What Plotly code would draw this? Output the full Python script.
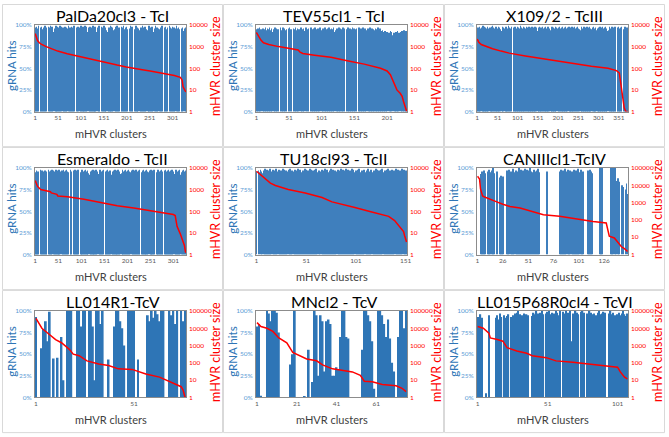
"""
Grid of gRNA hits (bars) vs mHVR cluster size (red line, log) per strain.
"""

import plotly.graph_objects as go

# ---------------- data ----------------
titles = [
    "PalDa20cl3 - TcI", "TEV55cl1 - TcI", "X109/2 - TcIII",
    "Esmeraldo - TcII", "TU18cl93 - TcII", "CANIIIcl1-TcIV",
    "LL014R1-TcV", "MNcl2 - TcV", "LL015P68R0cl4 - TcVI",
]

x_ticks = [
    [1, 51, 101, 151, 201, 251, 301],
    [1, 51, 101, 151, 201],
    [1, 51, 101, 151, 201, 251, 301, 351],
    [1, 51, 101, 151, 201, 251, 301],
    [1, 51, 101, 151],
    [1, 26, 51, 76, 101, 126],
    [1, 51],
    [1, 21, 41, 61],
    [1, 51, 101],
]

hit_ticks = [0, 25, 50, 75, 100]

# decades shown on the right (cluster size) axis
size_decades = [4, 4, 4, 4, 4, 5, 5, 5, 5]

# gRNA hits (%) per mHVR cluster
p1_hits = [
    52, 97, 93, 98, 95, 91, 96, 99, 0, 0, 0, 97, 92, 96, 98, 93, 95, 90, 97, 96,
    94, 99, 92, 95, 97, 93, 0, 0, 0, 98, 91, 95, 97, 94, 99, 96, 93, 98, 95, 92,
    0, 0, 0, 96, 94, 99, 95, 93, 98, 96, 92, 97, 95, 94, 99, 93, 96, 98, 0, 0,
    0, 97, 93, 96, 94, 98, 92, 95, 97, 96, 0, 0, 0, 99, 95, 93, 97, 96, 92, 98,
    95, 94, 97, 93, 96, 99, 95, 0, 0, 0, 97, 92, 96, 98, 95, 0, 0, 0, 97, 94,
    99, 95, 92, 96, 98, 94, 97, 93, 95, 99, 96, 94, 98, 92, 0, 0, 0, 97, 93, 96,
    98, 94, 95, 97, 92, 96, 99, 93, 95, 97, 94, 98, 96, 92, 0, 0, 0, 97, 94, 99,
    93, 96, 0, 0, 0, 98, 92, 97, 94, 96, 99, 93, 95, 97, 96, 94, 0, 0, 0, 92,
    95, 97, 94, 96, 99, 93, 95, 98, 92, 97, 94, 0, 0, 0, 95, 93, 98, 97, 94, 99,
    92, 96, 95, 97, 93, 0, 0, 0, 98, 95, 97, 92, 96, 99, 94, 95, 93, 97, 96, 98,
    94, 95, 92, 0, 0, 0, 96, 93, 99, 95, 94, 98, 96, 92, 0, 0, 0, 95, 93, 96,
    99, 94, 95, 97, 92, 96, 0, 0, 0, 94, 95, 97, 93, 96, 99, 94, 95, 92, 97, 96,
    98, 93, 95, 0, 0, 0, 94, 96, 92, 99, 95, 97, 93, 96, 94, 98, 95, 92, 0, 0,
    0, 96, 94, 99, 93, 95, 97, 92, 96, 0, 0, 0, 94, 95, 97, 93, 96, 99, 94, 0,
    0, 0, 97, 92, 96, 98, 94, 95, 93, 97, 0, 0, 0, 94, 99, 95, 97, 93, 92, 96,
    98, 94, 95, 97, 93, 96, 0, 0, 0, 99, 92, 96, 94, 97, 95, 93, 0, 0, 0, 94,
    96, 95, 97, 93, 0, 0, 0, 96, 92, 97,
]
p2_hits = [
    93, 95, 91, 96, 94, 97, 92, 95, 0, 0, 96, 93, 95, 90, 97, 94, 92, 96, 95, 93,
    97, 91, 94, 96, 92, 0, 0, 95, 93, 97, 94, 96, 92, 95, 93, 0, 0, 97, 94, 91,
    95, 97, 93, 96, 94, 92, 95, 0, 0, 96, 93, 97, 91, 95, 94, 0, 0, 96, 93, 95,
    97, 92, 94, 96, 93, 95, 0, 0, 97, 94, 91, 95, 96, 93, 0, 0, 97, 94, 92, 95,
    96, 0, 0, 93, 97, 94, 95, 92, 96, 93, 97, 95, 91, 94, 96, 93, 95, 97, 0, 0,
    94, 92, 96, 95, 93, 97, 94, 91, 95, 96, 93, 97, 92, 95, 94, 96, 93, 95, 97, 92,
    0, 0, 94, 96, 93, 95, 97, 91, 94, 96, 92, 95, 93, 97, 94, 96, 0, 0, 95, 93,
    97, 91, 94, 96, 92, 95, 93, 97, 94, 96, 93, 95, 92, 96, 0, 0, 94, 97, 93, 95,
    96, 92, 94, 97, 93, 95, 96, 91, 94, 0, 0, 96, 93, 95, 97, 92, 94, 96, 93, 95,
    91, 94, 96, 92, 95, 93, 97, 94, 92, 96, 90, 93, 91, 94, 89, 92, 90, 93, 91, 88,
    92, 0, 0, 91, 89, 93, 90, 92, 88, 0, 0, 91, 89, 70, 92, 90, 93, 89, 91, 0,
    0, 92, 90, 93, 89, 91, 94, 92, 90, 93, 91,
]
p3_hits = [
    96, 93, 97, 91, 95, 98, 94, 92, 96, 0, 0, 0, 97, 93, 99, 94, 96, 92, 98, 95,
    93, 97, 94, 96, 91, 95, 98, 93, 96, 0, 0, 0, 97, 95, 92, 98, 96, 93, 99, 95,
    94, 97, 92, 96, 95, 93, 98, 94, 97, 91, 95, 96, 93, 98, 94, 97, 92, 95, 0, 0,
    0, 93, 98, 95, 94, 97, 0, 0, 0, 96, 95, 98, 93, 97, 94, 96, 92, 95, 99, 93,
    97, 94, 96, 92, 95, 98, 0, 0, 0, 97, 93, 96, 95, 98, 92, 97, 94, 96, 93, 95,
    98, 94, 97, 92, 96, 95, 93, 99, 94, 97, 92, 96, 95, 93, 98, 94, 97, 95, 92, 96,
    94, 98, 93, 97, 95, 96, 92, 94, 98, 93, 97, 95, 94, 96, 92, 98, 95, 93, 97, 94,
    96, 92, 95, 98, 93, 97, 94, 0, 0, 0, 93, 97, 95, 92, 98, 94, 96, 93, 97, 95,
    94, 98, 92, 96, 95, 93, 97, 94, 98, 92, 96, 95, 93, 97, 94, 98, 92, 96, 95, 0,
    0, 0, 94, 96, 92, 98, 95, 93, 97, 94, 96, 92, 95, 98, 93, 97, 0, 0, 0, 96,
    93, 97, 95, 92, 98, 94, 96, 93, 97, 95, 94, 98, 92, 96, 95, 93, 97, 94, 98, 92,
    96, 95, 93, 97, 0, 0, 0, 98, 92, 96, 95, 93, 97, 94, 98, 92, 96, 95, 93, 97,
    94, 98, 92, 96, 95, 93, 97, 94, 98, 92, 96, 95, 93, 0, 0, 0, 94, 98, 92, 96,
    95, 93, 97, 94, 98, 92, 96, 95, 93, 97, 94, 98, 92, 96, 95, 93, 97, 94, 98, 92,
    96, 95, 0, 0, 0, 97, 94, 98, 92, 96, 95, 93, 97, 94, 0, 0, 0, 92, 96, 95,
    93, 97, 94, 98, 92, 96, 95, 93, 97, 94, 98, 92, 96, 95, 93, 97, 94, 98, 92, 96,
    95, 93, 0, 0, 0, 94, 98, 92, 96, 95, 93, 97, 94, 98, 92, 96, 95, 93, 97, 94,
    98, 92, 96, 0, 0, 0, 93, 97, 94, 98, 92, 96, 95, 93, 97, 94, 98, 92, 0, 0,
    0, 95, 93, 97, 94, 98, 92, 96, 95, 93, 97, 94, 96,
]
p4_hits = [
    88, 95, 92, 97, 94, 90, 96, 93, 0, 0, 0, 98, 93, 96, 91, 97, 94, 92, 96, 95,
    93, 97, 94, 90, 96, 92, 0, 0, 0, 98, 93, 96, 94, 97, 92, 95, 98, 0, 0, 0,
    97, 93, 96, 95, 92, 98, 94, 97, 93, 96, 95, 92, 98, 94, 96, 0, 0, 0, 97, 95,
    94, 98, 92, 96, 95, 93, 97, 94, 98, 92, 96, 95, 93, 0, 0, 0, 94, 98, 92, 96,
    0, 0, 0, 93, 97, 94, 98, 92, 96, 95, 93, 97, 94, 98, 92, 0, 0, 0, 95, 93,
    97, 94, 98, 92, 96, 95, 93, 97, 94, 98, 92, 96, 95, 93, 97, 94, 0, 0, 0, 92,
    96, 95, 93, 97, 94, 98, 92, 96, 95, 93, 97, 94, 98, 92, 96, 0, 0, 0, 93, 97,
    94, 98, 92, 96, 95, 93, 97, 94, 98, 0, 0, 0, 96, 95, 93, 97, 94, 98, 92, 96,
    95, 93, 97, 94, 0, 0, 0, 92, 96, 95, 93, 97, 94, 98, 92, 96, 95, 93, 97, 94,
    98, 92, 96, 95, 93, 0, 0, 0, 94, 98, 92, 96, 95, 93, 97, 94, 98, 92, 96, 95,
    93, 97, 94, 98, 92, 96, 95, 0, 0, 0, 97, 94, 98, 92, 96, 95, 93, 97, 94, 98,
    92, 96, 95, 93, 97, 94, 98, 92, 0, 0, 0, 95, 93, 97, 94, 98, 92, 96, 95, 93,
    97, 94, 98, 92, 96, 95, 0, 0, 0, 97, 94, 98, 92, 96, 95, 93, 97, 94, 98, 92,
    0, 0, 0, 95, 93, 97, 94, 98, 92, 96, 95, 93, 97, 94, 98, 92, 96, 95, 0, 0,
    0, 97, 94, 98, 92, 96, 95, 93, 97, 94, 98, 92, 96, 95, 93, 97, 94, 98, 92, 96,
    0, 0, 0, 93, 97, 94, 98, 92, 96, 95, 93, 97, 94, 98, 92, 0, 0, 0, 95, 93,
    97, 94, 98, 92, 96, 95, 93, 97,
]
p5_hits = [
    96, 0, 97, 95, 98, 96, 94, 0, 97, 99, 96, 98, 95, 97, 99, 96, 0, 98, 95, 97,
    99, 96, 0, 98, 95, 97, 96, 99, 98, 95, 97, 96, 0, 98, 99, 95, 97, 0, 96, 98,
    95, 97, 99, 96, 98, 95, 87, 97, 96, 99, 98, 95, 97, 96, 99, 98, 95, 97, 96, 98,
    99, 95, 0, 97, 96, 0, 98, 95, 97, 99, 96, 98, 95, 86, 97, 99, 96, 98, 95, 97,
    96, 0, 98, 95, 97, 99, 96, 98, 95, 97, 99, 96, 98, 95, 97, 96, 99, 98, 95, 0,
    97, 96, 98, 99, 88, 95, 97, 96, 98, 0, 95, 97, 99, 62, 96, 98, 0, 95, 97, 96,
    99, 98, 95, 97, 96, 98, 99, 0, 95, 97, 96, 98, 99, 95, 97, 96, 98, 95, 97, 0,
    99, 96, 98, 95, 97, 96, 99, 0, 98, 95, 97, 96,
]
p6_hits = [
    0, 0, 0, 93, 96, 95, 97, 94, 0, 0, 96, 98, 95, 0, 97, 100, 94, 0, 0, 96,
    0, 0, 89, 91, 88, 90, 0, 0, 0, 97, 95, 98, 0, 96, 94, 99, 95, 0, 97, 93,
    96, 100, 95, 98, 94, 97, 96, 99, 95, 98, 94, 97, 100, 96, 95, 93, 98, 96, 94, 97,
    99, 95, 0, 0, 0, 0, 0, 0, 0, 96, 0, 0, 0, 0, 0, 0, 0, 0, 0, 0,
    0, 96, 98, 95, 97, 94, 99, 96, 0, 98, 95, 97, 0, 96, 94, 98, 95, 97, 96, 99,
    95, 0, 98, 94, 96, 0, 0, 0, 0, 97, 95, 98, 96, 94, 0, 0, 0, 0, 0, 0,
    0, 100, 96, 100, 0, 0, 0, 0, 0, 0, 0, 0, 100, 65, 100, 0, 100, 85, 0, 88,
    84, 0, 0, 80, 78, 0, 75, 82, 70,
]
p7_hits = [
    93, 0, 0, 57, 79, 88, 65, 99, 0, 45, 0, 46, 0, 70, 20, 0, 100, 100, 100, 0,
    0, 100, 100, 82, 100, 100, 0, 100, 100, 82, 20, 100, 100, 85, 100, 0, 0, 44, 0, 0,
    82, 100, 100, 88, 80, 60, 0, 100, 100, 100, 100, 0, 44, 0, 0, 0, 0, 95, 88, 100,
    92, 100, 96, 88, 100, 100, 0, 0, 100, 95, 100, 85, 100, 0, 100, 88, 100,
]
p8_hits = [
    82, 85, 2, 0, 0, 100, 97, 88, 100, 100, 98, 75, 0, 0, 0, 0, 0, 38, 50, 100,
    0, 0, 0, 0, 1, 0, 55, 0, 18, 100, 95, 25, 95, 88, 30, 88, 90, 85, 25, 25,
    35, 33, 70, 100, 100, 70, 68, 0, 0, 0, 0, 0, 0, 55, 100, 100, 95, 88, 65, 10,
    0, 100, 100, 95, 85, 70, 90, 68, 40, 30, 0, 70, 100, 100, 80, 100,
]
p9_hits = [
    93, 90, 96, 92, 0, 0, 5, 0, 95, 0, 0, 0, 0, 92, 95, 90, 97, 93, 0, 95,
    92, 94, 96, 0, 93, 95, 0, 97, 98, 100, 96, 0, 95, 97, 93, 96, 95, 0, 0, 94,
    98, 96, 100, 97, 0, 98, 100, 96, 0, 97, 99, 100, 96, 98, 0, 97, 100, 98, 95, 100,
    0, 99, 97, 100, 96, 98, 100, 65, 97, 0, 100, 98, 96, 0, 99, 100, 98, 0, 97, 96,
    100, 98, 96, 97, 0, 95, 98, 100, 96, 97, 99, 98, 0, 0, 97, 100, 96, 98, 95, 0,
    96, 98, 95, 97, 100, 96, 94, 97,
]

# mHVR cluster size, read at selected cluster numbers
p1_size_x = [1, 3, 6, 10, 14, 25, 35, 50, 71, 90, 108, 125, 144, 162, 180, 200, 216, 235, 252, 270, 289, 305, 318, 322, 324, 327, 330]
p1_size_y = [4000, 2800, 1900, 1500, 1300, 1000, 800, 620, 470, 380, 300, 240, 195, 165, 140, 115, 97, 85, 74, 64, 55, 46, 38, 28, 14, 10, 8]
p2_size_x = [1, 3, 5, 8, 12, 20, 35, 50, 65, 68, 72, 90, 115, 140, 166, 191, 201, 206, 211, 216, 221, 224, 226, 229, 231]
p2_size_y = [4500, 3500, 2800, 2000, 1500, 1250, 1000, 850, 700, 550, 480, 400, 320, 220, 155, 100, 75, 50, 20, 10, 7, 5, 3, 1.5, 1]
p3_size_x = [1, 5, 11, 23, 39, 60, 80, 120, 161, 202, 242, 283, 324, 345, 352, 356, 360, 364, 368, 373]
p3_size_y = [2250, 1600, 1250, 1000, 800, 620, 500, 370, 280, 220, 165, 125, 100, 78, 60, 15, 4, 1.5, 1, 1]
p4_size_x = [1, 6, 13, 28, 34, 36, 48, 50, 71, 107, 143, 179, 215, 251, 287, 301, 305, 309, 316, 322, 325, 327, 328]
p4_size_y = [2600, 1400, 1000, 830, 800, 700, 600, 510, 470, 355, 250, 180, 140, 105, 80, 70, 63, 20, 9, 3.8, 2.6, 1.4, 1.2]
p5_size_x = [1, 5, 10, 15, 20, 33, 50, 67, 77, 84, 100, 117, 134, 140, 144, 147, 149, 150, 152]
p5_size_y = [7000, 4900, 2900, 2000, 1550, 1000, 700, 430, 270, 230, 150, 93, 58, 37, 22, 15, 11.5, 7.6, 3.8]
p6_size_x = [1, 3, 4, 6, 8, 13, 20, 26, 33, 43, 52, 66, 82, 98, 115, 128, 130, 131, 136, 139, 143, 146, 149]
p6_size_y = [33000, 23000, 5900, 2400, 2100, 1550, 1100, 800, 600, 480, 340, 200, 160, 110, 80, 66, 20, 11.5, 9, 5.2, 2.8, 2.2, 1.5]
p7_size_x = [1, 2, 4, 6, 8, 11, 14, 18, 20, 23, 27, 33, 38, 43, 50, 57, 64, 70, 75, 76, 77]
p7_size_y = [37000, 24000, 10000, 6500, 4300, 2200, 1450, 600, 320, 260, 130, 87, 70, 45, 42, 23, 15, 7.2, 4.2, 2.7, 1]
p8_size_x = [1, 3, 6, 9, 12, 16, 19, 22, 26, 31, 34, 39, 44, 49, 53, 55, 59, 64, 71, 74, 76]
p8_size_y = [21000, 12600, 10000, 6500, 2750, 1450, 400, 275, 166, 132, 76, 45, 36, 30, 19, 8.7, 8, 5.6, 4.8, 3.4, 2.2]
p9_size_x = [1, 5, 9, 10, 15, 19, 22, 29, 36, 40, 50, 57, 69, 81, 93, 101, 103, 106, 108]
p9_size_y = [12600, 10000, 5250, 2750, 2240, 1780, 760, 490, 360, 260, 200, 130, 107, 87, 69, 56, 30, 15, 12]

hits = [p1_hits, p2_hits, p3_hits, p4_hits, p5_hits, p6_hits, p7_hits, p8_hits, p9_hits]
size_x = [p1_size_x, p2_size_x, p3_size_x, p4_size_x, p5_size_x, p6_size_x, p7_size_x, p8_size_x, p9_size_x]
size_y = [p1_size_y, p2_size_y, p3_size_y, p4_size_y, p5_size_y, p6_size_y, p7_size_y, p8_size_y, p9_size_y]

# ---------------- styling ----------------
W, H = 669, 437
FONT = "Lato, Carlito, Calibri, 'Open Sans', sans-serif"
BAR_BLUE = "#2E75B6"
BAR_BLUE_THIN = "#3F7FBD"   # sub-pixel bars blend a little lighter in the reference
TICK_BLUE = "#5B9BD5"
RED = "#FF0000"
FRAME = "#8C8C8C"

fig = go.Figure()
layout = dict(
    width=W, height=H,
    margin=dict(l=0, r=0, t=0, b=0),
    paper_bgcolor="white", plot_bgcolor="white",
    showlegend=False, bargap=0.06,
    font=dict(family=FONT),
    annotations=[], shapes=[],
)

for i in range(9):
    row, col = divmod(i, 3)
    cx = col * 223
    ry = row * 145.3
    px0, px1 = cx + 33.3, cx + 185.7
    py0, py1 = ry + 21.3, ry + 109.3
    n = len(hits[i])
    k = i + 1
    xname = "x" if k == 1 else f"x{k}"
    yname = "y" if k == 1 else f"y{k}"
    y2name = f"y{k + 9}"

    dense = n > 120
    fig.add_trace(go.Bar(
        x=list(range(1, n + 1)), y=hits[i],
        marker=dict(color=BAR_BLUE_THIN if dense else BAR_BLUE, line=dict(width=0)),
        xaxis=xname, yaxis=yname, hoverinfo="skip",
    ))
    fig.add_trace(go.Scatter(
        x=size_x[i], y=size_y[i], mode="lines",
        line=dict(color=RED, width=1.5),
        xaxis=xname, yaxis=y2name, hoverinfo="skip",
    ))

    dec = size_decades[i]
    layout["xaxis" if k == 1 else f"xaxis{k}"] = dict(
        domain=[px0 / W, px1 / W], anchor=yname,
        range=[0.5, n + 0.5], tickvals=x_ticks[i],
        ticktext=[str(t) for t in x_ticks[i]],
        tickfont=dict(size=6.5, color="#595959", family=FONT),
        ticks="", ticklabelstandoff=0,
        showgrid=False, zeroline=False,
        showline=True, mirror=True, linecolor=FRAME, linewidth=1,
    )
    layout["yaxis" if k == 1 else f"yaxis{k}"] = dict(
        domain=[1 - py1 / H, 1 - py0 / H], anchor=xname,
        range=[0, 100], tickvals=hit_ticks,
        ticktext=[f"{t}%" for t in hit_ticks],
        tickfont=dict(size=6.5, color=TICK_BLUE, family=FONT),
        ticks="", ticklabelstandoff=1,
        showgrid=False, zeroline=False,
        showline=True, mirror=True, linecolor=FRAME, linewidth=1,
    )
    layout[f"yaxis{k + 9}"] = dict(
        anchor=xname, overlaying=yname, side="right",
        type="log", range=[0, dec],
        tickvals=[10 ** e for e in range(dec + 1)],
        ticktext=[str(10 ** e) for e in range(dec + 1)],
        tickfont=dict(size=6.5, color=RED, family=FONT),
        ticks="", ticklabelstandoff=2,
        showgrid=False, zeroline=False, showline=False,
    )

    ann = layout["annotations"]
    ann.append(dict(
        text=titles[i], x=(cx + 111.5) / W, y=1 - (ry + 12) / H,
        xref="paper", yref="paper", showarrow=False,
        xanchor="center", yanchor="middle",
        font=dict(size=16, color="black", family=FONT),
    ))
    ann.append(dict(
        text="gRNA hits", x=(cx + 10) / W, y=1 - (ry + 63) / H,
        xref="paper", yref="paper", showarrow=False, textangle=-90,
        xanchor="center", yanchor="middle",
        font=dict(size=11.5, color=BAR_BLUE, family=FONT),
    ))
    ann.append(dict(
        text="mHVR cluster size", x=(cx + 216) / W, y=1 - (ry + 63) / H,
        xref="paper", yref="paper", showarrow=False, textangle=-90,
        xanchor="center", yanchor="middle",
        font=dict(size=12.5, color=RED, family=FONT),
    ))
    ann.append(dict(
        text="mHVR clusters", x=(cx + 109.5) / W, y=1 - (ry + 132) / H,
        xref="paper", yref="paper", showarrow=False,
        xanchor="center", yanchor="middle",
        font=dict(size=11, color="#404040", family=FONT),
    ))

    # light border around each chart panel
    layout["shapes"].append(dict(
        type="rect", xref="paper", yref="paper",
        x0=(cx + 0.5) / W, x1=(cx + 222.5) / W,
        y0=1 - (ry + 145) / H, y1=1 - (ry + 0.5) / H,
        line=dict(color="#D9D9D9", width=1),
    ))

fig.update_layout(**layout)
# the page's default body margin would push the fixed-size figure off-window
fig.write_html(
    "out.html",
    config={"displayModeBar": False},
    post_script="document.body.style.margin='0';document.body.style.padding='0';",
)
